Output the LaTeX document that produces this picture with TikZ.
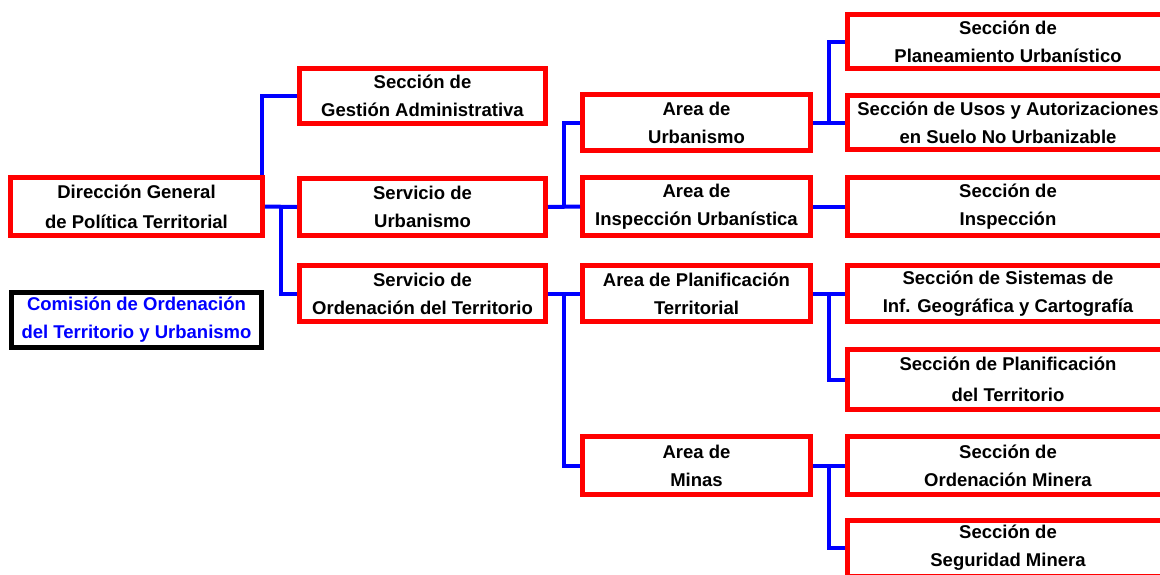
\documentclass[tikz,border=0pt]{standalone}
\usepackage{fontspec}
\setmainfont{Liberation Sans}
\usetikzlibrary{calc}

\tikzset{
  unit/.style={draw=red, line width=5pt, inner sep=0pt, align=center,
    font=\fontsize{18.5}{28}\selectfont\bfseries, minimum height=56pt},
  col1/.style={unit, minimum width=252pt},
  col2/.style={unit, minimum width=246pt},
  col3/.style={unit, minimum width=228pt},
  col4/.style={unit, minimum width=321pt},
  link/.style={draw=blue, line width=4pt},
}

\begin{document}
\begin{tikzpicture}[x=1pt, y=-1pt]
	\useasboundingbox (0,0) rectangle (1160,574);
	\clip (0,0) rectangle (1160,574);
	
	% first column
	\node[col1, minimum height=58pt, font=\fontsize{18.5}{30}\selectfont\bfseries] (dg) at (136.5,206.5) {Dirección General\\de Política Territorial};
	\node[col1, draw=black, text=blue, minimum width=250pt, minimum height=55pt] (com) at (136.5,320) {Comisión de Ordenación\\del Territorio y Urbanismo};
	
	% second column
	\node[col2, minimum height=55pt] (gest) at (422.5,95.5) {Sección de\\Gestión Administrativa};
	\node[col2, minimum height=57pt] (surb) at (422.5,207) {Servicio de\\Urbanismo};
	\node[col2] (sord) at (422.5,293.5) {Servicio de\\Ordenación del Territorio};
	
	% third column
	\node[col3] (aurb) at (696.5,122.5) {Area de\\Urbanismo};
	\node[col3, minimum height=58pt] (ainsp) at (696.5,206.5) {Area de\\Inspección Urbanística};
	\node[col3] (aplan) at (696.5,293.5) {Area de Planificación\\Territorial};
	\node[col3, minimum height=58pt] (amin) at (696.5,465.5) {Area de\\Minas};
	
	% fourth column, cut off at the right edge
	\node[col4, minimum height=54pt] (splan) at (1008,41.5) {Sección de\\Planeamiento Urbanístico};
	\node[col4, minimum height=54pt] (susos) at (1008,122.5) {Sección de Usos y Autorizaciones\\en Suelo No Urbanizable};
	\node[col4, minimum height=58pt] (sinsp) at (1008,206.5) {Sección de\\Inspección};
	\node[col4] (ssig) at (1008,293.5) {Sección de Sistemas de\\Inf. Geográfica y Cartografía};
	\node[col4, minimum height=60pt, font=\fontsize{18.5}{31}\selectfont\bfseries] (splt) at (1008,379.5) {Sección de Planificación\\del Territorio};
	\node[col4, minimum height=58pt] (somin) at (1008,465.5) {Sección de\\Ordenación Minera};
	\node[col4] (ssegu) at (1008,548) {Sección de\\Seguridad Minera};
	
	% branch points between the columns
	\coordinate (j1) at ($(dg.east)!0.5!(surb.west)$);
	\coordinate (j2) at ($(surb.east)!0.5!(ainsp.west)$);
	\coordinate (j3) at ($(sord.east)!0.5!(aplan.west)$);
	\coordinate (j4) at ($(aurb.east)!0.5!(susos.west)$);
	\coordinate (j5) at ($(aplan.east)!0.5!(ssig.west)$);
	\coordinate (j6) at ($(amin.east)!0.5!(somin.west)$);
	
	% connectors
	\draw[link] ([xshift=-3pt]dg.north east) |- (gest.west);
	\draw[link] (dg.east) -- (surb.west);
	\draw[link] (j1) |- (sord.west);
	\draw[link] (surb.east) -- (ainsp.west);
	\draw[link] (j2) |- (aurb.west);
	\draw[link] (sord.east) -- (aplan.west);
	\draw[link] (j3) |- (amin.west);
	\draw[link] (aurb.east) -- (susos.west);
	\draw[link] (j4) |- (splan.west);
	\draw[link] (ainsp.east) -- (sinsp.west);
	\draw[link] (aplan.east) -- (ssig.west);
	\draw[link] (j5) |- (splt.west);
	\draw[link] (amin.east) -- (somin.west);
	\draw[link] (j6) |- (ssegu.west);
\end{tikzpicture}
\end{document}
